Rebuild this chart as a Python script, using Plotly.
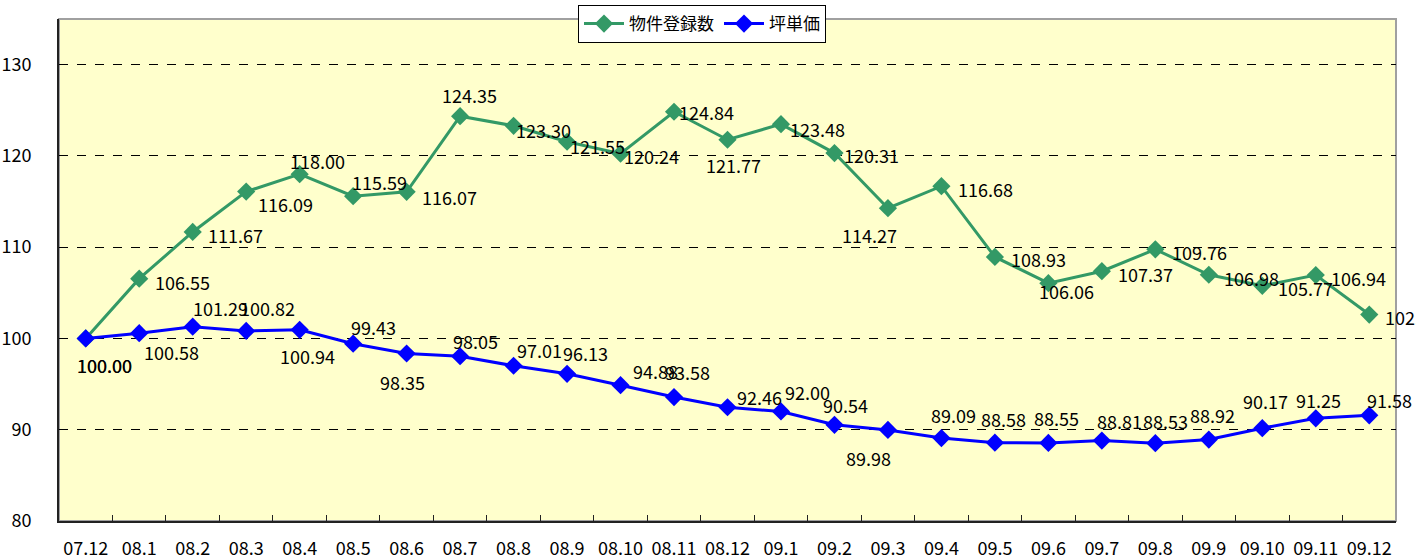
import plotly.graph_objects as go

months = ["07.12", "08.1", "08.2", "08.3", "08.4", "08.5", "08.6", "08.7", "08.8", "08.9",
          "08.10", "08.11", "08.12", "09.1", "09.2", "09.3", "09.4", "09.5", "09.6", "09.7",
          "09.8", "09.9", "09.10", "09.11", "09.12"]

listings = [100.00, 106.55, 111.67, 116.09, 118.00, 115.59, 116.07, 124.35, 123.30, 121.55,
            120.24, 124.84, 121.77, 123.48, 120.31, 114.27, 116.68, 108.93, 106.06, 107.37,
            109.76, 106.98, 105.77, 106.94, 102.62]

unit_price = [100.00, 100.58, 101.29, 100.82, 100.94, 99.43, 98.35, 98.05, 97.01, 96.13,
              94.88, 93.58, 92.46, 92.00, 90.54, 89.98, 89.09, 88.58, 88.55, 88.81,
              88.53, 88.92, 90.17, 91.25, 91.58]

# label offsets from each point, in px (right, down) - Excel placed them by hand
green_off = [(19, 27), (43, 3), (43, 3), (39, 12), (18, -13), (26, -14), (43, 5), (9, -21),
             (30, 4), (30, 4), (31, 2), (32, 0), (6, 25), (37, 5), (37, 2), (-18, 27),
             (44, 3), (44, 2), (18, 8), (44, 3), (44, 3), (43, 3), (43, 2), (43, 3), (43, 2)]
blue_off = [(19, 27), (32, 19), (28, -19), (21, -23), (8, 26), (20, -17), (-4, 28), (15, -15),
            (26, -16), (18, -21), (35, -14), (13, -25), (32, -10), (27, -19), (11, -20),
            (-19, 28), (12, -23), (9, -24), (8, -25), (18, -20), (10, -22), (4, -25),
            (3, -27), (3, -18), (20, -15)]

FONT = "Noto Sans CJK JP"
GREEN = "#339966"
BLUE = "#0000FF"

fig = go.Figure()
fig.add_trace(go.Scatter(
    x=months, y=listings, name="物件登録数", mode="lines+markers",
    line=dict(color=GREEN, width=3),
    marker=dict(symbol="diamond", size=14, color=GREEN),
    cliponaxis=False,
))
fig.add_trace(go.Scatter(
    x=months, y=unit_price, name="坪単価", mode="lines+markers",
    line=dict(color=BLUE, width=3),
    marker=dict(symbol="diamond", size=14, color=BLUE),
    cliponaxis=False,
))

for vals, offs in ((listings, green_off), (unit_price, blue_off)):
    for i, (v, (dx, dy)) in enumerate(zip(vals, offs)):
        fig.add_annotation(x=i, y=v, text=f"{v:.2f}", showarrow=False,
                           xshift=dx, yshift=-dy,
                           font=dict(family=FONT, size=18, color="black"))

# grey frame on top / right, Excel style
fig.add_shape(type="rect", xref="paper", yref="paper", x0=0, x1=1, y0=0, y1=1,
              line=dict(color="#A0A0A0", width=2), layer="below")

fig.update_layout(
    width=1416, height=559,
    margin=dict(l=59, r=20, t=19, b=38, autoexpand=False),
    paper_bgcolor="white", plot_bgcolor="#FFFFCC",
    font=dict(family=FONT, size=18, color="black"),
    showlegend=True,
    legend=dict(orientation="h", x=(702 - 59) / 1337, xanchor="center",
                y=1 + 14 / 502, yanchor="top",
                bgcolor="white", bordercolor="black", borderwidth=1,
                font=dict(family=FONT, size=17), itemwidth=40),
)
fig.update_xaxes(
    type="category", range=[-0.5, len(months) - 0.5], automargin=False,
    showgrid=False, showline=True, linecolor="#222", linewidth=2, tickangle=0,
    ticks="inside", tickson="boundaries", ticklen=6, tickcolor="#222",
    ticklabelstandoff=10, tickfont=dict(size=18),
)
fig.update_yaxes(
    range=[80, 135], dtick=10, tick0=80, automargin=False, showline=True,
    linecolor="#222", linewidth=2,
    showgrid=True, gridcolor="black", griddash="dash", gridwidth=1,
    zeroline=False, ticks="", ticklabelstandoff=22, tickfont=dict(size=18),
)

fig.write_html("out.html", config={"displayModeBar": False},
               post_script="document.body.style.margin = '0';")
